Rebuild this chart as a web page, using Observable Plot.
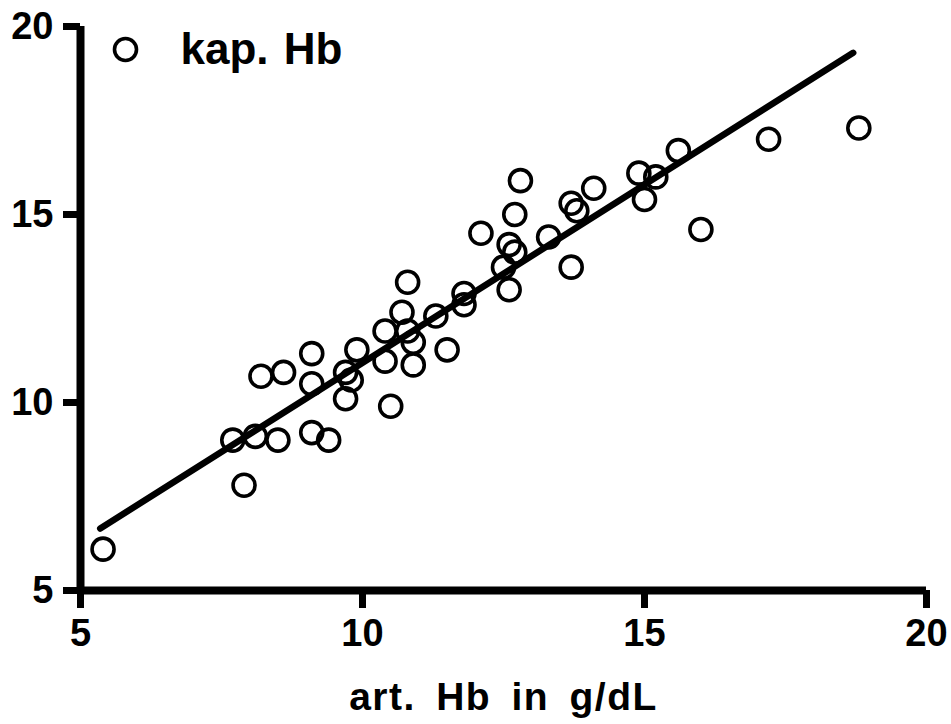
<!DOCTYPE html>
<html>
<head>
<meta charset="utf-8">
<script src="https://cdn.jsdelivr.net/npm/d3@7"></script>
<script src="https://cdn.jsdelivr.net/npm/@observablehq/plot@0.6"></script>
<style>
  html, body { margin: 0; padding: 0; background: #fff; }
  #chart svg { display: block; }
</style>
</head>
<body>
<div id="chart"></div>
<script>
// arterial Hb (x) and capillary Hb (y), g/dL
const artHb = [5.4, 7.7, 7.9, 8.1, 8.2, 8.5, 8.6, 9.1, 9.1, 9.1, 9.4, 9.7, 9.7, 9.8, 9.9,
  10.4, 10.4, 10.5, 10.7, 10.8, 10.8, 10.9, 10.9, 11.3, 11.5, 11.8, 11.8, 12.1, 12.5, 12.6,
  12.6, 12.7, 12.7, 12.8, 13.3, 13.7, 13.7, 13.8, 14.1, 14.9, 15.0, 15.2, 15.6, 16.0, 17.2, 18.8];
const kapHb = [6.1, 9.0, 7.8, 9.1, 10.7, 9.0, 10.8, 11.3, 10.5, 9.2, 9.0, 10.1, 10.8, 10.6, 11.4,
  11.9, 11.1, 9.9, 12.4, 13.2, 11.9, 11.6, 11.0, 12.3, 11.4, 12.9, 12.6, 14.5, 13.6, 14.2,
  13.0, 15.0, 14.0, 15.9, 14.4, 15.3, 13.6, 15.1, 15.7, 16.1, 15.4, 16.0, 16.7, 14.6, 17.0, 17.3];
// regression line end points
const fitX = [5.35, 18.7];
const fitY = [6.65, 19.3];
const xTicks = [5, 10, 15, 20];
const yTicks = [5, 10, 15, 20];
const seriesName = "kap. Hb";
const xLabel = "art. Hb in g/dL";

const points = artHb.map((x, i) => ({x, y: kapHb[i]}));
const fit = fitX.map((x, i) => ({x, y: fitY[i]}));

const chart = Plot.plot({
  width: 951,
  height: 724,
  marginLeft: 80,
  marginRight: 25,
  marginTop: 26,
  marginBottom: 134,
  style: {fontFamily: "'Liberation Sans', Arial, sans-serif", fontWeight: "bold", background: "white", color: "black"},
  x: {domain: [5, 20]},
  y: {domain: [5, 20]},
  marks: [
    Plot.axisX({ticks: xTicks, tickSize: 18, tickPadding: 11, strokeWidth: 7, fontSize: 38, label: null}),
    Plot.axisY({ticks: yTicks, tickSize: 17, tickPadding: 10, strokeWidth: 7, fontSize: 38, label: null}),
    Plot.ruleY([5], {stroke: "black", strokeWidth: 8}),
    Plot.ruleX([5], {stroke: "black", strokeWidth: 8}),
    Plot.line(fit, {x: "x", y: "y", stroke: "black", strokeWidth: 6.5, strokeLinecap: "round"}),
    Plot.dot(points, {x: "x", y: "y", r: 11, stroke: "black", strokeWidth: 3.6, fill: "none"}),
    Plot.dot([seriesName], {frameAnchor: "top-left", dx: 45, dy: 23, r: 11, stroke: "black", strokeWidth: 3.6, fill: "none"}),
    Plot.text([seriesName], {frameAnchor: "top-left", dx: 100, dy: 23, text: d => d, textAnchor: "start", lineAnchor: "middle", fontSize: 44, fill: "black"}),
    Plot.text([xLabel], {frameAnchor: "bottom", dy: 107, text: d => d, lineAnchor: "middle", fontSize: 39, fill: "black"})
  ]
});
d3.select(chart).selectAll("text")
  .filter(function() { return this.textContent === xLabel; })
  .style("word-spacing", "8px")
  .style("letter-spacing", "1.5px");
d3.select(chart).selectAll("text")
  .filter(function() { return this.textContent === seriesName; })
  .style("word-spacing", "3px");
document.getElementById("chart").appendChild(chart);
</script>
</body>
</html>
